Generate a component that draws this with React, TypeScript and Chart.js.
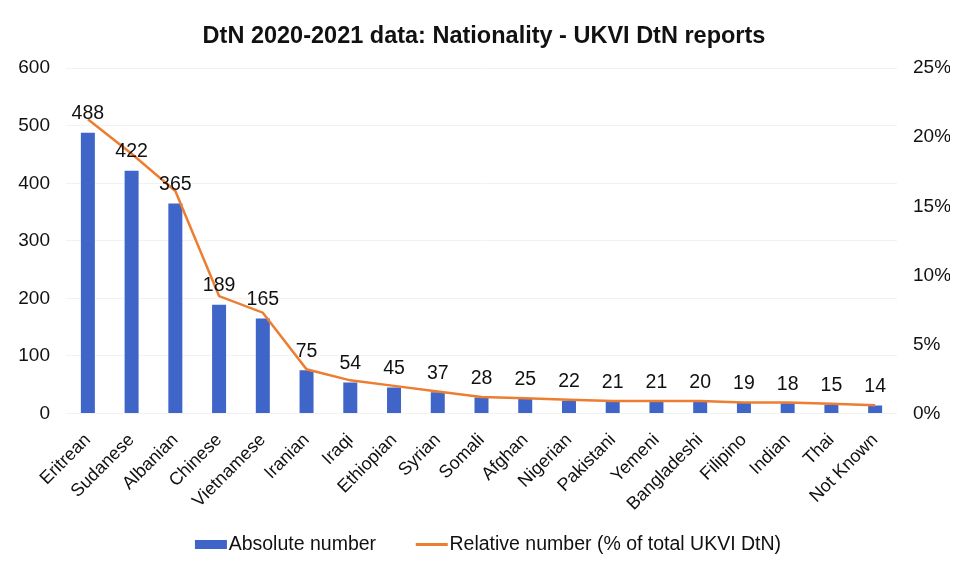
import React, { useEffect, useRef } from "react";
import { Chart, registerables } from "chart.js";

Chart.register(...registerables);

const categories = ["Eritrean", "Sudanese", "Albanian", "Chinese", "Vietnamese", "Iranian", "Iraqi", "Ethiopian", "Syrian", "Somali", "Afghan", "Nigerian", "Pakistani", "Yemeni", "Bangladeshi", "Filipino", "Indian", "Thai", "Not Known"];
const absoluteValues = [488, 422, 365, 189, 165, 75, 54, 45, 37, 28, 25, 22, 21, 21, 20, 19, 18, 15, 14];
const relativeValues = [21.3, 18.8, 16.1, 8.5, 7.3, 3.2, 2.4, 2.0, 1.6, 1.2, 1.1, 1.0, 0.9, 0.9, 0.9, 0.8, 0.8, 0.7, 0.6];
const leftTicks = [0, 100, 200, 300, 400, 500, 600];
const rightTicks = [0, 5, 10, 15, 20, 25];

const FONT = "'Liberation Sans', Arial, sans-serif";
const BLUE = "#3E65C7";
const ORANGE = "#ED7D31";

function swatch(h: number, color: string) {
  const c = document.createElement("canvas");
  c.width = 64;
  c.height = h;
  const ctx = c.getContext("2d")!;
  ctx.fillStyle = color;
  ctx.fillRect(24, 0, 32, h);
  return c;
}

const barLabels = {
  id: "barLabels",
  afterDatasetsDraw(chart: any) {
    const ctx = chart.ctx;
    const meta = chart.getDatasetMeta(1);
    ctx.save();
    ctx.font = `19.5px ${FONT}`;
    ctx.fillStyle = "#111";
    ctx.textAlign = "center";
    ctx.textBaseline = "middle";
    meta.data.forEach((el: any, i: number) => {
      ctx.fillText(String(absoluteValues[i]), el.x, el.y - 19);
    });
    ctx.restore();
  },
};

export default function App() {
  const ref = useRef<HTMLCanvasElement>(null);
  useEffect(() => {
    document.body.style.margin = "0";
    const chart = new Chart(ref.current!, {
      type: "bar",
      data: {
        labels: categories,
        datasets: [
          {
            type: "line",
            label: "Relative number (% of total UKVI DtN)",
            data: relativeValues,
            borderColor: ORANGE,
            backgroundColor: ORANGE,
            borderWidth: 2.5,
            pointRadius: 0,
            tension: 0,
            yAxisID: "y1",
            order: 0,
            pointStyle: swatch(3, ORANGE) as any,
          } as any,
          {
            type: "bar",
            label: "Absolute number",
            data: absoluteValues,
            backgroundColor: BLUE,
            barPercentage: 0.64,
            categoryPercentage: 0.5,
            yAxisID: "y",
            order: 1,
            pointStyle: swatch(9, BLUE) as any,
          } as any,
        ],
      },
      options: {
        animation: false,
        responsive: false,
        layout: { padding: { left: 18, right: 6, top: 0, bottom: 1 } },
        plugins: {
          title: {
            display: true,
            text: "DtN 2020-2021 data: Nationality - UKVI DtN reports",
            font: { family: FONT, size: 23.5, weight: "bold" },
            color: "#111",
            padding: { top: 22, bottom: 18 },
          },
          legend: {
            position: "bottom",
            reverse: true,
            labels: {
              usePointStyle: true,
              pointStyleWidth: 32,
              font: { family: FONT, size: 19.5 },
              color: "#111",
              padding: 10,
              generateLabels: (ch: any) => {
                const items = Chart.defaults.plugins.legend.labels.generateLabels(ch);
                return items.map((it: any) =>
                  it.datasetIndex === 1 ? { ...it, text: it.text + "    " } : it
                );
              },
            },
          },
          tooltip: { enabled: false },
        },
        scales: {
          x: {
            grid: { display: false, drawTicks: false },
            border: { display: false },
            afterFit: (axis: any) => {
              axis.paddingLeft = 0;
              axis.paddingRight = 0;
              axis.height = 111;
            },
            ticks: {
              font: { family: FONT, size: 18 },
              color: "#111",
              maxRotation: 45,
              minRotation: 45,
              autoSkip: false,
              padding: 16,
            },
          },
          y: {
            position: "left",
            min: 0,
            max: 600,
            afterBuildTicks: (axis: any) => {
              axis.ticks = leftTicks.map((v) => ({ value: v }));
            },
            afterFit: (axis: any) => {
              axis.width = 48;
            },
            grid: { color: "#f2f2f2", drawTicks: false },
            border: { display: false },
            ticks: {
              font: { family: FONT, size: 19 },
              color: "#111",
              padding: 16,
            },
          },
          y1: {
            position: "right",
            min: 0,
            max: 25,
            afterBuildTicks: (axis: any) => {
              axis.ticks = rightTicks.map((v) => ({ value: v }));
            },
            afterFit: (axis: any) => {
              axis.width = 53;
            },
            grid: { display: false, drawTicks: false },
            border: { display: false },
            ticks: {
              font: { family: FONT, size: 19 },
              color: "#111",
              padding: 16,
              callback: (v: any) => `${v}%`,
            },
          },
        },
      },
      plugins: [barLabels],
    } as any);
    return () => chart.destroy();
  }, []);
  return (
    <div style={{ width: 956, height: 565, background: "#fff" }}>
      <canvas ref={ref} width={956} height={565} />
    </div>
  );
}
